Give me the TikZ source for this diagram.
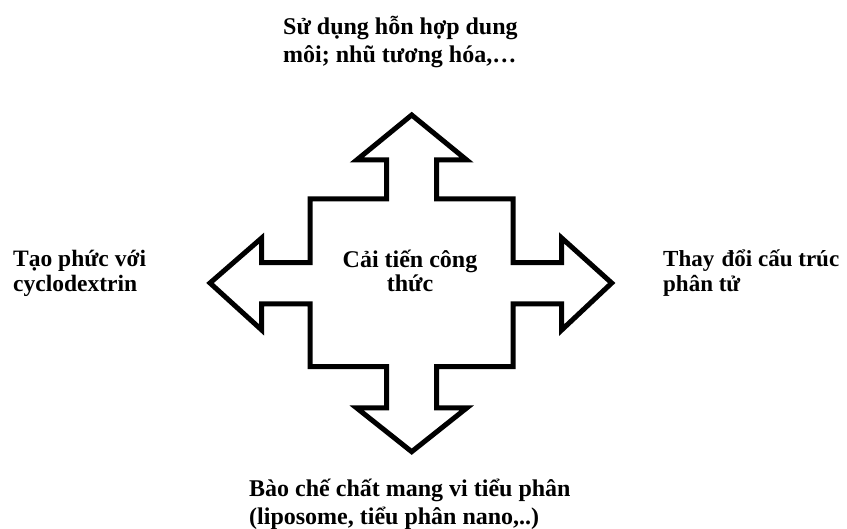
\documentclass[tikz,border=0pt]{standalone}
\usepackage{fontspec}
\setmainfont{Liberation Serif}
\begin{document}
\begin{tikzpicture}[x=1pt,y=-1pt,
  outline/.style={draw=black,line width=5pt,line join=miter,fill=white},
  lbl/.style={inner sep=0pt,anchor=base west,font=\bfseries\fontsize{24}{28}\selectfont},
  side/.style={inner sep=0pt,anchor=base west,font=\bfseries\fontsize{23.5}{25}\selectfont},
  mid/.style={inner sep=0pt,anchor=base,font=\bfseries\fontsize{24}{24}\selectfont}]
\useasboundingbox[fill=white] (0,0) rectangle (847,529);

% four-way arrow around the central block
\draw[outline]
  (411.7,115) -- (466.7,160) -- (436.7,160) -- (436.7,199) -- (513,199)
  -- (513,262.7) -- (561.7,262.7) -- (561.7,238) -- (611.7,283)
  -- (561.7,330) -- (561.7,304) -- (513,304) -- (513,366.7)
  -- (436.7,366.7) -- (436.7,408) -- (466.7,408) -- (411.7,451.7)
  -- (356.7,408) -- (386.7,408) -- (386.7,366.7) -- (310,366.7)
  -- (310,304) -- (261.7,304) -- (261.7,330) -- (210,283)
  -- (261.7,238) -- (261.7,262.7) -- (310,262.7) -- (310,199)
  -- (386.7,199) -- (386.7,160) -- (356.7,160) -- cycle;

\node[mid] (core) at (410,268)
  {\begin{tabular}[t]{@{}c@{}}Cải tiến công\\thức\end{tabular}};
\node[lbl] (up) at (283,35)
  {\begin{tabular}[t]{@{}l@{}}Sử dụng hỗn hợp dung\\môi; nhũ tương hóa,\dots\end{tabular}};
\node[lbl] (down) at (249,496.7)
  {\begin{tabular}[t]{@{}l@{}}Bào chế chất mang vi tiểu phân\\(liposome, tiểu phân nano,..)\end{tabular}};
\node[side] (west) at (13,266.7)
  {\begin{tabular}[t]{@{}l@{}}Tạo phức với\\cyclodextrin\end{tabular}};
\node[side,font=\bfseries\fontsize{23}{25}\selectfont] (east) at (663,266.7)
  {\begin{tabular}[t]{@{}l@{}}Thay\hspace{0.32em}đổi cấu trúc\\phân tử\end{tabular}};
\end{tikzpicture}
\end{document}
